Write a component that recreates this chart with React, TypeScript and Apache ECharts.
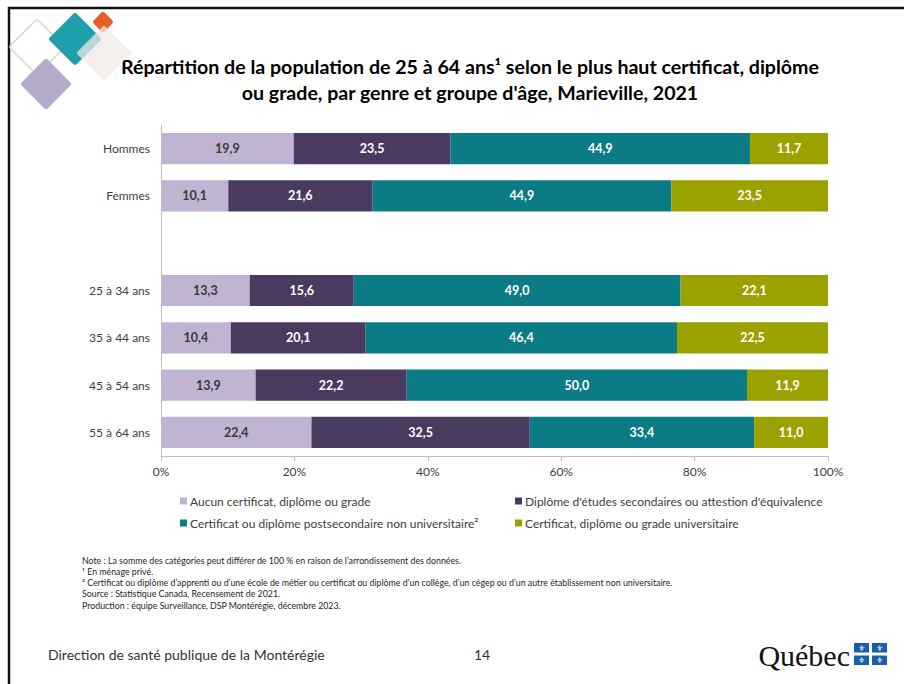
import React, { useEffect, useRef } from 'react';
import * as echarts from 'echarts';

const categories = ['Hommes', 'Femmes', '', '25 à 34 ans', '35 à 44 ans', '45 à 54 ans', '55 à 64 ans'];
const seriesNames = [
  'Aucun certificat, diplôme ou grade',
  "Diplôme d'études secondaires ou attestion d'équivalence",
  'Certificat ou diplôme postsecondaire non universitaire²',
  'Certificat, diplôme ou grade universitaire',
];
const aucun = [19.9, 10.1, null, 13.3, 10.4, 13.9, 22.4];
const secondaire = [23.5, 21.6, null, 15.6, 20.1, 22.2, 32.5];
const postsec = [44.9, 44.9, null, 49.0, 46.4, 50.0, 33.4];
const univ = [11.7, 23.5, null, 22.1, 22.5, 11.9, 11.0];
const colors = ['#C1B3D2', '#4A3A5F', '#0B7B85', '#9AA200'];
const labelColors = ['#3A3A3A', '#FFFFFF', '#FFFFFF', '#FFFFFF'];
const xMin = 0;
const xMax = 100;
const xInterval = 20;

const titleLines = [
  'Répartition de la population de 25 à 64 ans¹ selon le plus haut certificat, diplôme',
  "ou grade, par genre et groupe d'âge, Marieville, 2021",
];
const noteLines = [
  'Note : La somme des catégories peut différer de 100 % en raison de l’arrondissement des données.',
  '¹ En ménage privé.',
  '² Certificat ou diplôme d’apprenti ou d’une école de métier ou certificat ou diplôme d’un collège, d’un cégep ou d’un autre établissement non universitaire.',
  'Source : Statistique Canada, Recensement de 2021.',
  'Production : équipe Surveillance, DSP Montérégie, décembre 2023.',
];
const footerLeft = 'Direction de santé publique de la Montérégie';
const pageNumber = '14';
const logoWord = 'Québec';

const FONT = 'Lato, "Open Sans", sans-serif';

function diamond(cx: number, cy: number, half: number, style: any, z = 1) {
  const s = half * Math.SQRT2;
  return {
    type: 'rect',
    x: cx,
    y: cy,
    rotation: Math.PI / 4,
    shape: { x: -s / 2, y: -s / 2, width: s, height: s, r: 3 },
    style,
    z,
    silent: true,
  };
}

export default function App() {
  const ref = useRef<HTMLDivElement>(null);
  useEffect(() => {
    if (!ref.current) return;
    const chart = echarts.init(ref.current, undefined, { renderer: 'svg' });
    const raw = [aucun, secondaire, postsec, univ];
    const totals = categories.map((_, i) => raw.reduce((a, arr) => a + (arr[i] ?? 0), 0));
    const fmt = (v: number) => v.toFixed(1).replace('.', ',');

    const series = raw.map((arr, si) => ({
      name: seriesNames[si],
      type: 'bar',
      stack: 'total',
      barCategoryGap: '34%',
      itemStyle: { color: colors[si] },
      label: {
        show: true,
        position: 'inside',
        color: labelColors[si],
        fontFamily: FONT,
        fontWeight: 'bold',
        fontSize: 12.5,
        formatter: (p: any) => (arr[p.dataIndex] == null ? '' : fmt(arr[p.dataIndex] as number)),
      },
      data: arr.map((v, i) => (v == null ? null : (v / totals[i]) * 100)),
    }));

    const flagBlue = '#1C5DA8';
    const flagX = 854;
    const flagY = 643;
    const fw = 15;
    const fh = 9.5;
    const flag: any[] = [];
    [[0, 0], [1, 0], [0, 1], [1, 1]].forEach(([c, r]) => {
      const x = flagX + c * (fw + 3);
      const y = flagY + r * (fh + 3);
      flag.push({ type: 'rect', shape: { x, y, width: fw, height: fh }, style: { fill: flagBlue }, silent: true });
      flag.push({
        type: 'text',
        style: {
          text: '⚜', x: x + fw / 2, y: y + fh / 2 + 0.5, fill: '#FFFFFF',
          fontSize: 8, fontFamily: 'DejaVu Sans', textAlign: 'center', textVerticalAlign: 'middle',
        },
        silent: true,
      });
    });

    chart.setOption({
      animation: false,
      backgroundColor: '#FFFFFF',
      textStyle: { fontFamily: FONT },
      grid: { left: 161, right: 76, top: 125, bottom: 228, containLabel: false },
      xAxis: {
        type: 'value',
        min: xMin,
        max: xMax,
        interval: xInterval,
        axisLine: { show: true, lineStyle: { color: '#BFBFBF' } },
        axisTick: { show: true, length: 5, lineStyle: { color: '#BFBFBF' } },
        splitLine: { show: false },
        axisLabel: { formatter: '{value}%', color: '#404040', fontSize: 12, fontFamily: FONT, margin: 9 },
      },
      yAxis: {
        type: 'category',
        data: categories,
        inverse: true,
        axisLine: { show: true, lineStyle: { color: '#BFBFBF' } },
        axisTick: { show: false },
        axisLabel: { color: '#404040', fontSize: 12, fontFamily: FONT, margin: 11 },
      },
      legend: [
        {
          data: [seriesNames[0], seriesNames[2]],
          orient: 'vertical',
          left: 175,
          top: 490,
          itemWidth: 7,
          itemHeight: 7,
          itemGap: 10,
          icon: 'rect',
          textStyle: { color: '#404040', fontSize: 12, fontFamily: FONT, padding: [0, 0, 0, -2] },
        },
        {
          data: [seriesNames[1], seriesNames[3]],
          orient: 'vertical',
          left: 510,
          top: 490,
          itemWidth: 7,
          itemHeight: 7,
          itemGap: 10,
          icon: 'rect',
          textStyle: { color: '#404040', fontSize: 12, fontFamily: FONT, padding: [0, 0, 0, -2] },
        },
      ],
      series,
      graphic: [
        { type: 'line', shape: { x1: 8, y1: 8, x2: 904, y2: 8 }, style: { stroke: '#111111', lineWidth: 2.5 }, silent: true },
        { type: 'line', shape: { x1: 9, y1: 7, x2: 9, y2: 684 }, style: { stroke: '#111111', lineWidth: 2.5 }, silent: true },
        diamond(37, 47, 28, { fill: 'none', stroke: '#D8DDD2', lineWidth: 1.5 }, 1),
        diamond(46, 84, 26, { fill: '#B4AACA' }, 2),
        diamond(75, 39, 27, { fill: '#1F9EAB' }, 3),
        diamond(103, 22, 11, { fill: '#E6602A' }, 4),
        diamond(104, 53, 28, { fill: '#EEEAE7', opacity: 0.75 }, 5),
        {
          type: 'text',
          style: {
            text: titleLines[0], x: 470, y: 66, fill: '#000000', fontSize: 19.6, fontWeight: 'bold',
            fontFamily: FONT, textAlign: 'center', textVerticalAlign: 'middle',
          },
        },
        {
          type: 'text',
          style: {
            text: titleLines[1], x: 470, y: 92, fill: '#000000', fontSize: 19.6, fontWeight: 'bold',
            fontFamily: FONT, textAlign: 'center', textVerticalAlign: 'middle',
          },
        },
        ...noteLines.map((t, i) => ({
          type: 'text',
          style: {
            text: t, x: 82, y: 560 + i * 11.3, fill: '#262626', fontSize: 8.8,
            fontFamily: FONT, textAlign: 'left', textVerticalAlign: 'middle',
          },
        })),
        {
          type: 'text',
          style: {
            text: footerLeft, x: 48, y: 654, fill: '#333333', fontSize: 14,
            fontFamily: FONT, textAlign: 'left', textVerticalAlign: 'middle',
          },
        },
        {
          type: 'text',
          style: {
            text: pageNumber, x: 482, y: 654, fill: '#333333', fontSize: 14,
            fontFamily: FONT, textAlign: 'center', textVerticalAlign: 'middle',
          },
        },
        {
          type: 'text',
          style: {
            text: logoWord, x: 850, y: 655, fill: '#111111', fontSize: 30,
            fontFamily: '"Liberation Serif", serif', textAlign: 'right', textVerticalAlign: 'middle',
          },
        },
        ...flag,
      ],
    });
    return () => chart.dispose();
  }, []);
  return (
    <div
      ref={ref}
      style={{ position: 'absolute', left: 0, top: 0, width: 904, height: 684 }}
    />
  );
}
